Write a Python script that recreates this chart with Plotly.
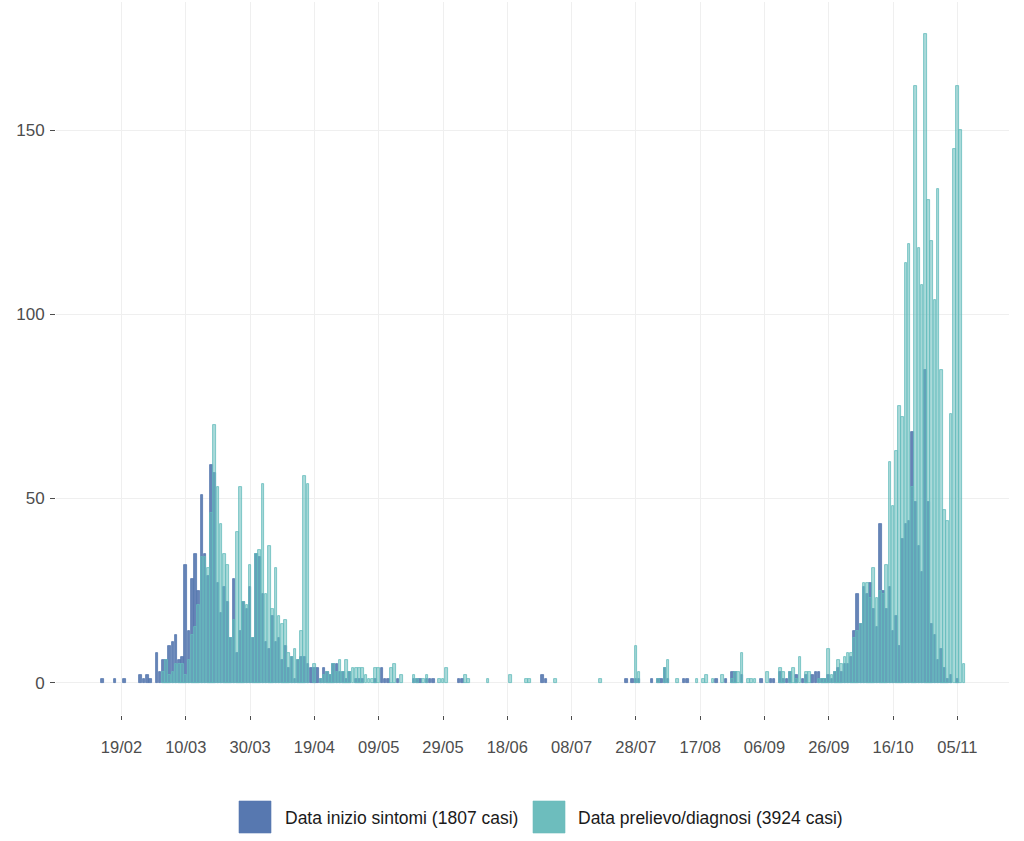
import pandas as pd
import plotly.graph_objects as go

# ---------------- data (daily counts, first day = start_date) ----------------
start_date = "2020-02-13"

sintomi = [  # Data inizio sintomi (blue)
    1, 0, 0, 0, 1, 0, 0, 1, 0, 0,
    0, 0, 2, 1, 2, 1, 0, 8, 3, 6,
    6, 10, 11, 13, 6, 7, 32, 14, 28, 35,
    25, 51, 35, 29, 59, 57, 27, 19, 26, 22,
    12, 28, 8, 14, 22, 20, 26, 12, 35, 34,
    24, 11, 9, 18, 11, 12, 6, 10, 4, 7,
    1, 6, 7, 7, 5, 4, 4, 4, 1, 4,
    3, 2, 5, 5, 3, 3, 1, 3, 0, 1,
    1, 1, 0, 0, 0, 1, 0, 4, 1, 1,
    0, 0, 1, 0, 0, 0, 0, 1, 1, 1,
    0, 1, 1, 1, 0, 0, 0, 0, 0, 0,
    0, 1, 1, 0, 0, 0, 0, 0, 0, 0,
    0, 0, 0, 0, 0, 0, 0, 0, 0, 0,
    0, 0, 0, 0, 0, 0, 0, 2, 1, 0,
    0, 0, 0, 0, 0, 0, 0, 0, 0, 0,
    0, 0, 0, 0, 0, 0, 0, 0, 0, 0,
    0, 0, 0, 1, 0, 1, 1, 1, 0, 0,
    0, 1, 0, 1, 1, 4, 1, 0, 0, 0,
    0, 1, 1, 0, 0, 0, 0, 0, 0, 0,
    0, 1, 0, 0, 1, 0, 3, 3, 0, 2,
    0, 0, 0, 0, 0, 1, 0, 0, 1, 1,
    0, 3, 1, 1, 3, 0, 2, 0, 1, 2,
    0, 2, 3, 3, 1, 1, 2, 1, 3, 4,
    3, 5, 5, 7, 14, 24, 16, 26, 24, 27,
    20, 15, 43, 25, 20, 26, 14, 18, 10, 39,
    43, 44, 68, 49, 37, 30, 85, 49, 16, 13,
    6, 9, 4, 1, 2, 0, 1, 0, 0, 0,
]

prelievo = [  # Data prelievo/diagnosi (teal)
    0, 0, 0, 0, 0, 0, 0, 0, 0, 0,
    0, 0, 0, 0, 0, 0, 0, 0, 0, 3,
    6, 2, 3, 5, 5, 5, 2, 6, 13, 15,
    21, 34, 34, 31, 46, 70, 53, 43, 35, 32,
    12, 17, 41, 53, 22, 21, 32, 12, 35, 36,
    54, 24, 37, 20, 31, 18, 16, 17, 8, 7,
    9, 6, 14, 56, 54, 0, 5, 0, 1, 2,
    3, 2, 5, 3, 6, 3, 6, 3, 4, 4,
    4, 4, 2, 1, 1, 4, 4, 0, 0, 0,
    4, 5, 0, 2, 0, 0, 0, 2, 1, 0,
    1, 2, 0, 0, 0, 1, 1, 4, 0, 0,
    0, 0, 0, 2, 1, 0, 0, 0, 0, 0,
    1, 0, 0, 0, 0, 0, 0, 2, 0, 0,
    0, 0, 1, 1, 0, 0, 0, 0, 0, 0,
    0, 1, 0, 0, 0, 0, 0, 0, 0, 0,
    0, 0, 0, 0, 0, 1, 0, 0, 0, 0,
    0, 0, 0, 0, 0, 0, 10, 3, 0, 0,
    0, 0, 0, 1, 0, 4, 6, 0, 0, 1,
    0, 0, 0, 0, 0, 1, 0, 1, 2, 0,
    1, 0, 0, 2, 0, 0, 1, 3, 3, 8,
    0, 1, 1, 1, 0, 0, 0, 3, 0, 0,
    0, 4, 3, 0, 3, 4, 1, 7, 0, 3,
    3, 0, 0, 1, 1, 1, 9, 2, 3, 6,
    5, 7, 8, 8, 12, 14, 16, 27, 27, 23,
    31, 23, 25, 24, 32, 60, 48, 63, 75, 72,
    114, 119, 53, 162, 118, 108, 176, 131, 120, 104,
    134, 85, 47, 44, 73, 145, 162, 150, 5, 0,
]

series_names = ["Data inizio sintomi (1807 casi)", "Data prelievo/diagnosi (3924 casi)"]
tick_start = "2020-02-19"
tick_count = 14
tick_step_days = 20

# ---------------- styling ----------------
BLUE = (86, 119, 175)
TEAL = (100, 188, 188)
BLUE_KEY = (87, 120, 176)
TEAL_KEY = (109, 189, 189)
FONT = "Liberation Sans, Arial, sans-serif"
W, H = 1024, 841
L, R, T, B = 56, 15, 2, 126

dates = pd.date_range(start_date, periods=len(sintomi), freq="D")


def rgba(c, a):
    return f"rgba({c[0]},{c[1]},{c[2]},{a})"


def bar_trace(values, color, name, fill_alpha, line_alpha):
    xs = [d for d, v in zip(dates, values) if v > 0]
    ys = [v for v in values if v > 0]
    return go.Bar(
        x=xs, y=ys, name=name, showlegend=False,
        width=0.82 * 86400000,
        marker=dict(color=rgba(color, fill_alpha),
                    line=dict(color=rgba(color, line_alpha), width=0.8)),
        hoverinfo="x+y",
    )


fig = go.Figure()
fig.add_trace(bar_trace(sintomi, BLUE, series_names[0], 0.9, 1))
fig.add_trace(bar_trace(prelievo, TEAL, series_names[1], 0.55, 1))

# axis ranges reproducing ggplot's 5% expansion
t0 = pd.Timestamp(tick_start)
px_per_day = 3.215
x_tick0_px = 121.5
left_day = (L - x_tick0_px) / px_per_day
right_day = ((W - R) - x_tick0_px) / px_per_day
x_range = [t0 + pd.Timedelta(days=left_day), t0 + pd.Timedelta(days=right_day)]

ymax = max(max(sintomi), max(prelievo))
y_range = [-0.05 * ymax, ymax * 1.05]

tickvals = pd.date_range(tick_start, periods=tick_count, freq=f"{tick_step_days}D")
ticktext = [d.strftime("%d/%m") for d in tickvals]

fig.update_layout(
    width=W, height=H,
    margin=dict(l=L, r=R, t=T, b=B, pad=0, autoexpand=False),
    barmode="overlay",
    bargap=0,
    plot_bgcolor="white", paper_bgcolor="white",
    font=dict(family=FONT, size=16, color="#4d4d4d"),
    xaxis=dict(
        type="date", range=x_range,
        tickvals=list(tickvals), ticktext=ticktext,
        showgrid=True, gridcolor="#efefef", gridwidth=1,
        zeroline=False, showline=False,
        ticks="outside", ticklen=4, tickcolor="#4d4d4d", tickwidth=1,
        ticklabelstandoff=13,
        tickfont=dict(family=FONT, size=16.5, color="#4d4d4d"),
    ),
    yaxis=dict(
        range=y_range,
        tickvals=[0, 50, 100, 150],
        showgrid=True, gridcolor="#efefef", gridwidth=1,
        zeroline=False, showline=False,
        ticks="outside", ticklen=5, tickcolor="#4d4d4d", tickwidth=1,
        ticklabelstandoff=2,
        tickfont=dict(family=FONT, size=17, color="#4d4d4d"),
    ),
)

# custom ggplot-style legend (large square keys)
panel_w = W - L - R
panel_h = H - T - B


def px2paper_x(px):
    return (px - L) / panel_w


def px2paper_y(py):
    return (H - B - py) / panel_h


legend_items = [
    (239, 271, 283, BLUE_KEY, series_names[0]),
    (533, 565, 576, TEAL_KEY, series_names[1]),
]
key_top, key_bot, text_y = 801, 833, 818
for kx0, kx1, tx, col, label in legend_items:
    fig.add_shape(
        type="rect", xref="paper", yref="paper",
        x0=px2paper_x(kx0), x1=px2paper_x(kx1),
        y0=px2paper_y(key_bot), y1=px2paper_y(key_top),
        fillcolor=rgba(col, 1), line=dict(color=rgba(col, 0.6), width=1),
    )
    fig.add_annotation(
        xref="paper", yref="paper", x=px2paper_x(tx), y=px2paper_y(text_y),
        text=label, showarrow=False, xanchor="left", yanchor="middle",
        font=dict(family=FONT, size=17.5, color="#1a1a1a"),
    )

fig.write_html("out.html", config={"displayModeBar": False},
               post_script="document.body.style.margin='0px';")
